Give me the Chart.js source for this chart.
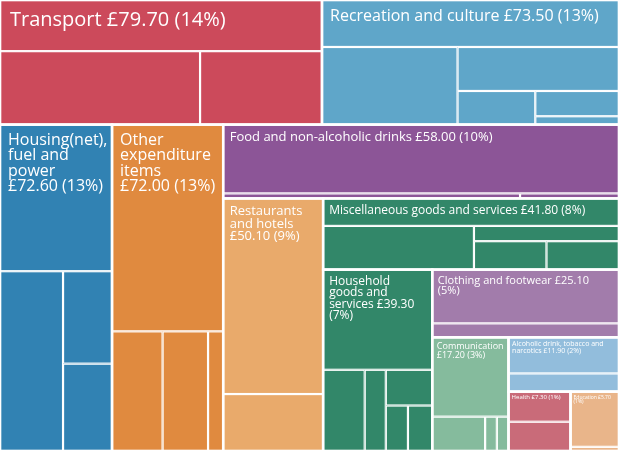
<!DOCTYPE html>
<html>
<head>
<meta charset="utf-8">
<script src="https://cdn.jsdelivr.net/npm/chart.js@4/dist/chart.umd.min.js"></script>
<style>body{margin:0;background:#fff}canvas{display:block}</style>
</head>
<body>
<canvas id="myChart" width="619" height="451"></canvas>
<script>
// Spending categories, weekly £ per household
var categories = ["Transport", "Recreation and culture", "Housing(net), fuel and power", "Other expenditure items",
  "Food and non-alcoholic drinks", "Restaurants and hotels", "Miscellaneous goods and services",
  "Household goods and services", "Clothing and footwear", "Communication",
  "Alcoholic drink, tobacco and narcotics", "Health", "Education"];
var values = [79.7, 73.5, 72.6, 72.0, 58.0, 50.1, 41.8, 39.3, 25.1, 17.2, 11.9, 7.3, 5.7];
// sub-category values
var subValues = [
  [32.7, 29.2, 17.8],
  [27.7, 20.9, 14.1, 5.2, 4.2, 1.4],
  [32.6, 22.5, 9.0, 8.5],
  [45.6, 12.0, 10.8, 3.6],
  [54.0, 3.0, 1.0],
  [38.8, 11.3],
  [16.1, 13.1, 4.4, 4.1, 4.1],
  [21.7, 6.7, 3.4, 3.3, 2.0, 2.2],
  [19.9, 5.2],
  [12.0, 3.6, 0.8, 0.8],
  [7.9, 4.0],
  [3.7, 3.6],
  [5.3, 0.4]
];
// strip order: t = strip across the top, l = strip down the left, number = items in it
var topStrips = "t2 l1 l1 t1 l1 t1 l1 t1 l1 t1 t2";
var subStrips = ["t1 t2", "t1 l1 t1 l1 l2", "t1 l1 l2", "t1 t3", "t1 t2", "t1 t1", "t1 l1 t1 t2",
  "t1 l1 l1 t1 t2", "t1 t1", "t1 t3", "t1 t1", "t1 t1", "t1 t1"];
var colours = ["#cc4a5b", "#5fa6c9", "#3182b3", "#e08a3f", "#8c5597", "#e9aa6b", "#328769",
  "#328769", "#a27cab", "#85bb9d", "#92bddc", "#c96b79", "#e9b58a"];
var labelSizes = [20, 16, 16, 16, 13, 13, 12, 12, 11, 9, 7, 6, 5];

function layout(vals, spec, r) {
  var out = [], idx = 0, rest = vals.reduce(function (a, b) { return a + b; }, 0);
  var x = r.x, y = r.y, w = r.w, h = r.h;
  spec.split(" ").forEach(function (s) {
    var n = +s.slice(1), items = vals.slice(idx, idx + n);
    var sum = items.reduce(function (a, b) { return a + b; }, 0);
    var f = sum / rest, off = 0;
    if (s[0] === "t") {
      var sh = h * f;
      items.forEach(function (v) { var iw = w * v / sum; out.push({x: x + off, y: y, w: iw, h: sh}); off += iw; });
      y += sh; h -= sh;
    } else {
      var sw = w * f;
      items.forEach(function (v) { var ih = h * v / sum; out.push({x: x, y: y + off, w: sw, h: ih}); off += ih; });
      x += sw; w -= sw;
    }
    idx += n; rest -= sum;
  });
  return out;
}

function wrap(ctx, text, maxW) {
  var words = text.split(" "), lines = [], line = "";
  words.forEach(function (wd) {
    var t = line ? line + " " + wd : wd;
    if (line && ctx.measureText(t).width > maxW) { lines.push(line); line = wd; } else line = t;
  });
  lines.push(line);
  return lines;
}

var total = values.reduce(function (a, b) { return a + b; }, 0);

var treemapPlugin = {
  id: "treemap",
  afterDatasetsDraw: function (chart) {
    var ctx = chart.ctx, xs = chart.scales.x, ys = chart.scales.y;
    function px(rc) {
      var x0 = xs.getPixelForValue(rc.x), x1 = xs.getPixelForValue(rc.x + rc.w);
      var y0 = ys.getPixelForValue(rc.y), y1 = ys.getPixelForValue(rc.y + rc.h);
      return {x: x0, y: y0, w: x1 - x0, h: y1 - y0};
    }
    var rects = layout(values, topStrips, {x: 0, y: 0, w: 1, h: 1});
    ctx.save();
    rects.forEach(function (rc, i) {
      var subs = layout(subValues[i], subStrips[i], rc);
      ctx.fillStyle = colours[i];
      ctx.strokeStyle = "#ffffff";
      ctx.lineWidth = 1.2;
      subs.forEach(function (s) {
        var p = px(s);
        ctx.fillRect(p.x, p.y, p.w, p.h);
        ctx.strokeRect(p.x + 0.5, p.y + 0.5, p.w - 1, p.h - 1);
      });
      var p = px(rc);
      ctx.lineWidth = 2.5;
      ctx.strokeRect(p.x, p.y, p.w, p.h);
      var fs = labelSizes[i];
      ctx.font = fs + "px 'Open Sans', sans-serif";
      ctx.fillStyle = "#ffffff";
      ctx.textBaseline = "top";
      var pct = Math.round(values[i] / total * 100);
      var text = categories[i] + " £" + values[i].toFixed(2) + " (" + pct + "%)";
      var pad = Math.max(3, fs * 0.5);
      var lines = wrap(ctx, text, p.w - pad * 2);
      lines.forEach(function (ln, k) {
        ctx.fillText(ln, p.x + pad, p.y + pad + k * fs * 0.95);
      });
    });
    ctx.restore();
  }
};

var myChart = new Chart(document.getElementById("myChart"), {
  type: "scatter",
  data: { datasets: [{ data: [], label: "spend" }] },
  options: {
    responsive: false,
    animation: false,
    layout: { padding: 0 },
    plugins: { legend: { display: false }, tooltip: { enabled: false } },
    scales: {
      x: { type: "linear", min: 0, max: 1, display: false },
      y: { type: "linear", min: 0, max: 1, reverse: true, display: false }
    }
  },
  plugins: [treemapPlugin]
});
</script>
</body>
</html>
